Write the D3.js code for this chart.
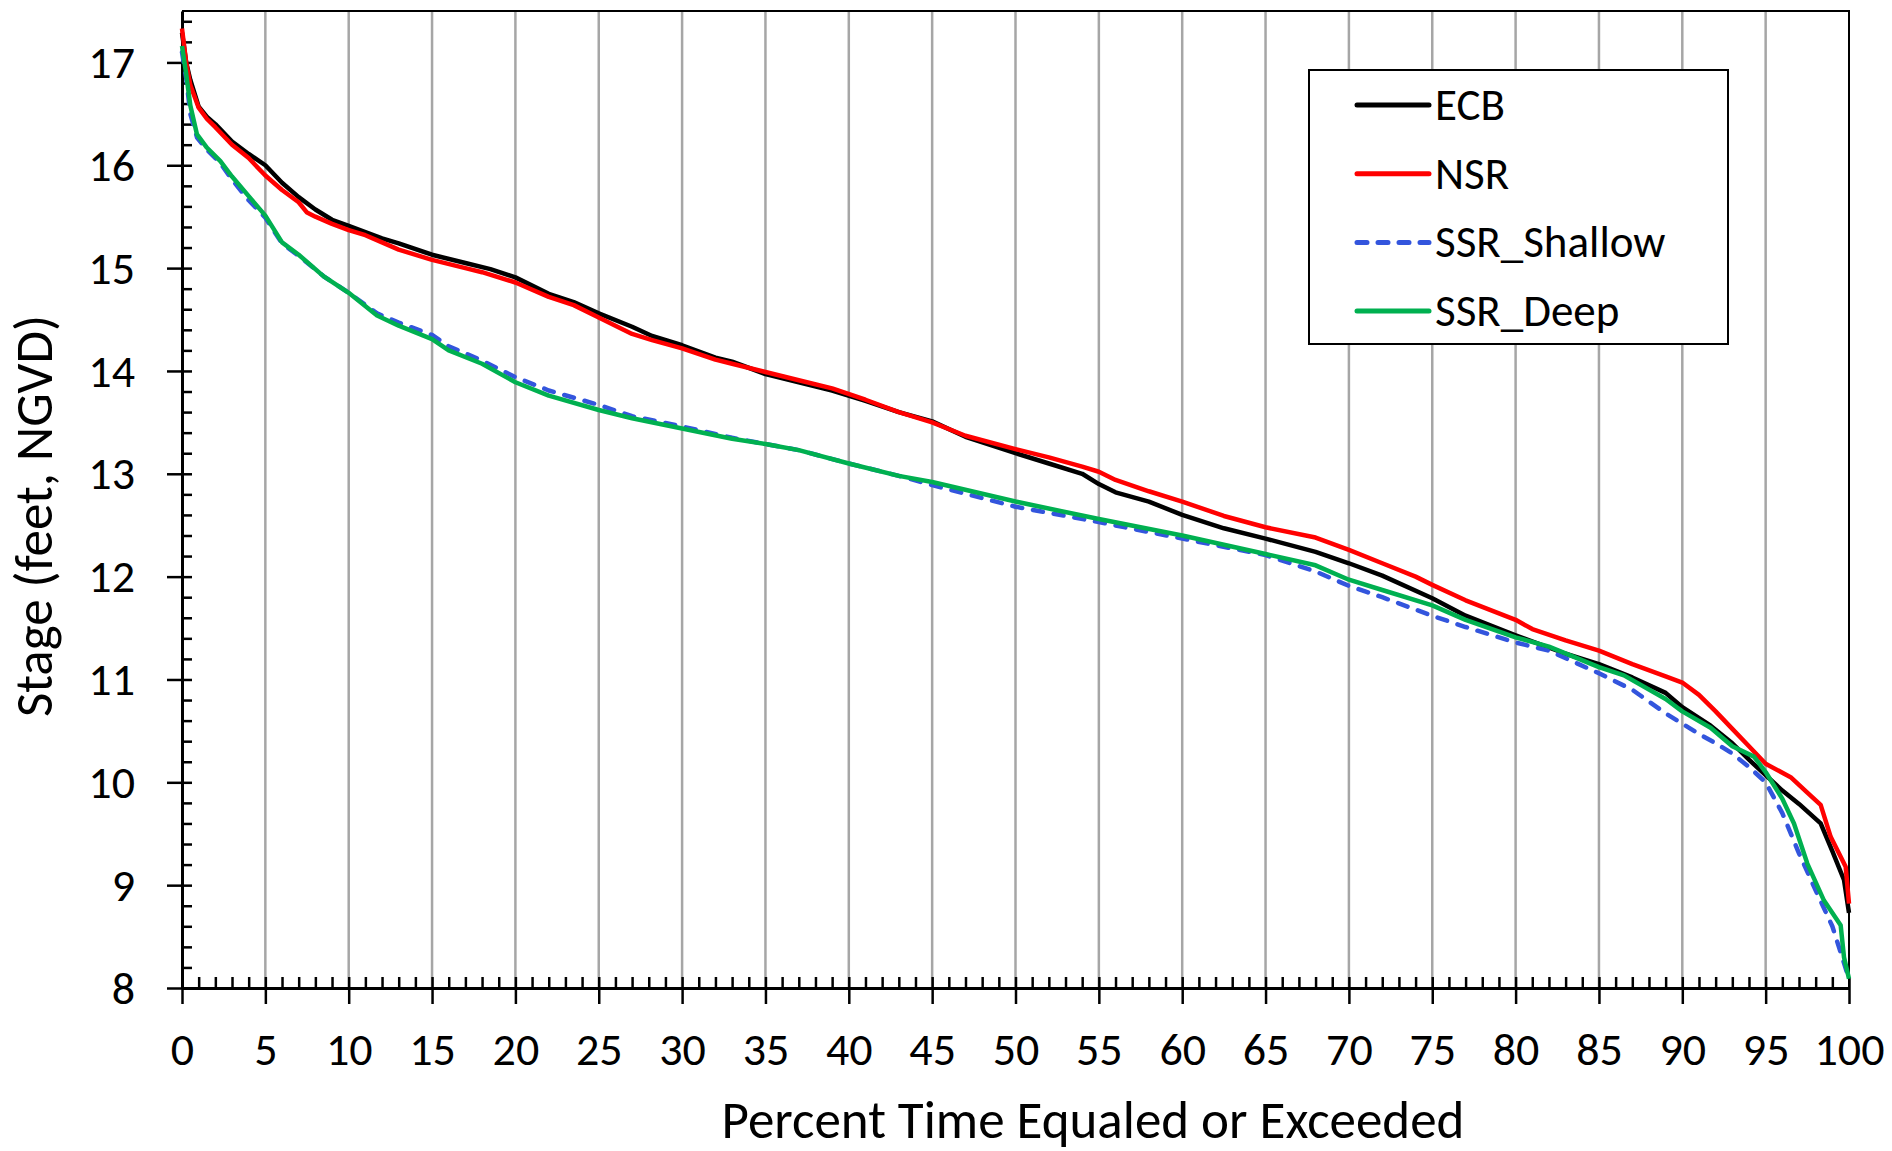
<!DOCTYPE html>
<html>
<head>
<meta charset="utf-8">
<title>Stage duration curves</title>
<script src="https://cdn.jsdelivr.net/npm/d3@7"></script>
<style>
  body { margin: 0; background: #fff; }
  svg { display: block; }
  text { font-family: Carlito, Calibri, Lato, sans-serif; fill: #000; }
</style>
</head>
<body>
<div id="chart"></div>
<script>
// Percent of time equaled or exceeded (x) and stage in feet NGVD (y)
var ecbPct   = [0, 0.25, 0.5, 1, 1.5, 2, 3, 4, 5, 6, 7, 8, 9, 10, 11, 12, 13, 15, 17, 18.5, 20, 22, 23.5, 25, 27, 28.2, 30, 32, 33, 35, 37, 39, 41, 43, 45, 47, 50, 52, 54, 55, 56, 58, 60, 62.5, 65, 68, 70, 72, 75, 77, 80, 83, 85, 87, 89, 90, 91.7, 93, 94, 95, 96, 97, 98.3, 99, 99.7, 100];
var ecbStage = [17.29, 17.0, 16.83, 16.57, 16.47, 16.4, 16.23, 16.11, 16.0, 15.83, 15.69, 15.57, 15.47, 15.41, 15.35, 15.29, 15.24, 15.13, 15.05, 14.99, 14.91, 14.75, 14.67, 14.56, 14.43, 14.34, 14.25, 14.13, 14.09, 13.97, 13.89, 13.81, 13.71, 13.6, 13.51, 13.36, 13.2, 13.1, 13.0, 12.9, 12.82, 12.73, 12.6, 12.47, 12.37, 12.24, 12.13, 12.01, 11.79, 11.62, 11.43, 11.25, 11.15, 11.02, 10.87, 10.73, 10.55, 10.38, 10.22, 10.07, 9.92, 9.79, 9.6, 9.33, 9.05, 8.73];

var nsrPct   = [0, 0.25, 0.5, 1, 1.5, 2, 3, 4, 5, 6, 7, 7.5, 8, 9, 10, 11, 12, 13, 15, 17, 18, 20, 22, 23.5, 25, 27, 28.2, 30, 32, 33, 35, 37, 39, 41, 43, 45, 47, 50, 52, 54, 55, 56, 58, 60, 62.5, 65, 68, 70, 72, 74, 75, 77, 80, 81, 83, 85, 87, 89, 90, 91, 92, 93, 94, 95, 96.5, 97.5, 98.3, 98.9, 99.8, 100];
var nsrStage = [17.33, 17.0, 16.78, 16.56, 16.45, 16.37, 16.2, 16.07, 15.9, 15.76, 15.64, 15.54, 15.5, 15.43, 15.37, 15.32, 15.25, 15.18, 15.08, 15.0, 14.96, 14.86, 14.72, 14.64, 14.52, 14.36, 14.3, 14.22, 14.11, 14.07, 13.99, 13.91, 13.83, 13.72, 13.6, 13.5, 13.37, 13.24, 13.16, 13.07, 13.02, 12.94, 12.83, 12.73, 12.59, 12.48, 12.38, 12.26, 12.13, 12.0, 11.92, 11.77, 11.58, 11.49, 11.38, 11.28, 11.15, 11.03, 10.97, 10.85, 10.69, 10.52, 10.35, 10.18, 10.05, 9.9, 9.78, 9.47, 9.18, 8.82];

var shallowPct   = [0, 0.25, 0.5, 0.9, 1.5, 2.3, 3, 4, 5, 6, 7, 8.5, 10, 11.7, 13, 15, 16, 18, 20, 22, 25, 27, 30, 33, 35, 37, 40, 43, 45, 50, 55, 60, 65, 68, 70, 72, 75, 77, 80, 82, 85, 87, 89, 90, 91, 92, 93, 94, 95, 96, 97, 98, 99, 99.9, 100];
var shallowStage = [17.1, 16.85, 16.5, 16.27, 16.15, 16.02, 15.86, 15.66, 15.49, 15.24, 15.12, 14.92, 14.76, 14.56, 14.47, 14.35, 14.24, 14.1, 13.94, 13.81, 13.67, 13.56, 13.46, 13.35, 13.29, 13.23, 13.1, 12.98, 12.89, 12.68, 12.53, 12.37, 12.21, 12.05, 11.91, 11.8, 11.62, 11.51, 11.36, 11.28, 11.06, 10.9, 10.67, 10.57, 10.47, 10.38, 10.28, 10.15, 10.0, 9.7, 9.31, 8.95, 8.6, 8.14, 8.1];

var deepPct   = [0, 0.25, 0.5, 0.9, 1.5, 2.3, 3, 4, 5, 6, 7, 8.5, 10, 11.7, 13, 15, 16, 18, 20, 22, 25, 27, 30, 33, 35, 37, 40, 43, 45, 50, 55, 60, 65, 68, 70, 72, 75, 77, 80, 82, 85, 86.5, 89, 90, 91.7, 93, 94.3, 95, 96, 96.7, 97.5, 98.5, 99.5, 99.7, 100];
var deepStage = [17.16, 16.89, 16.58, 16.3, 16.17, 16.04, 15.89, 15.7, 15.51, 15.25, 15.13, 14.92, 14.76, 14.54, 14.44, 14.31, 14.2, 14.07, 13.89, 13.76, 13.62, 13.54, 13.44, 13.34, 13.29, 13.23, 13.1, 12.98, 12.92, 12.73, 12.56, 12.4, 12.22, 12.11, 11.97, 11.87, 11.72, 11.58, 11.41, 11.32, 11.12, 11.04, 10.81, 10.69, 10.53, 10.35, 10.25, 10.1, 9.84, 9.6, 9.21, 8.85, 8.61, 8.3, 8.09];

var seriesNames = ["ECB", "NSR", "SSR_Shallow", "SSR_Deep"];
var seriesColors = ["#000000", "#ff0000", "#3355dd", "#00b050"];

// tick labels
var xTicks = d3.range(0, 101, 5);
var yTicks = d3.range(8, 18, 1);

function init() {
  var w = 1892;
  var h = 1151;

  var margin = { top: 11, right: 43, bottom: 163, left: 182 };

  var series = [
    { name: seriesNames[0], pct: ecbPct, stage: ecbStage },
    { name: seriesNames[1], pct: nsrPct, stage: nsrStage },
    { name: seriesNames[2], pct: shallowPct, stage: shallowStage },
    { name: seriesNames[3], pct: deepPct, stage: deepStage }
  ];
  series.forEach(function (s) {
    s.values = s.pct.map(function (p, i) {
      return { pct: p, stage: s.stage[i] };
    });
  });

  //Set up Scales
  var xScale = d3.scaleLinear()
    .domain([0, 100])
    .range([margin.left, w - margin.right]);
  var yScale = d3.scaleLinear()
    .domain([8, 17.5])
    .range([h - margin.bottom, margin.top]);

  var color = d3.scaleOrdinal()
    .domain(seriesNames)
    .range(seriesColors);

  //Create SVG element
  var svg = d3.select("#chart")
    .append("svg")
    .attr("width", w)
    .attr("height", h);

  // vertical grid lines
  svg.append("g")
    .selectAll("line")
    .data(xTicks.filter(function (d) { return d > 0 && d < 100; }))
    .enter()
    .append("line")
    .attr("x1", function (d) { return xScale(d); })
    .attr("x2", function (d) { return xScale(d); })
    .attr("y1", yScale(17.5))
    .attr("y2", yScale(8))
    .attr("stroke", "#a6a6a6")
    .attr("stroke-width", 2.5);

  // plot border (top and right)
  svg.append("path")
    .attr("d", "M" + xScale(0) + "," + yScale(17.5) + "H" + xScale(100) + "V" + yScale(8))
    .attr("fill", "none")
    .attr("stroke", "#000")
    .attr("stroke-width", 2);

  //Minor y ticks pointing inward
  svg.append("g")
    .attr("transform", "translate(" + margin.left + ",0)")
    .call(d3.axisRight(yScale)
      .tickValues(d3.range(0, 48).map(function (i) { return 8 + i * 0.2; }))
      .tickSize(10)
      .tickFormat(""))
    .call(function (g) { g.select(".domain").remove(); })
    .selectAll("line")
    .attr("stroke-width", 2.5);

  //Add y axis
  var yAxis = svg.append("g")
    .attr("transform", "translate(" + margin.left + ",0)")
    .call(d3.axisLeft(yScale)
      .tickValues(yTicks)
      .tickSize(15)
      .tickSizeOuter(0)
      .tickPadding(32));
  yAxis.select(".domain").attr("stroke-width", 3);
  yAxis.selectAll("line").attr("stroke-width", 2.5);
  yAxis.selectAll("text")
    .attr("font-size", 46)
    .attr("font-family", null)
    .attr("dy", "0.33em");

  //Minor x ticks pointing inward
  svg.append("g")
    .attr("transform", "translate(0," + (h - margin.bottom) + ")")
    .call(d3.axisTop(xScale)
      .tickValues(d3.range(0, 101, 1))
      .tickSize(11)
      .tickFormat(""))
    .call(function (g) { g.select(".domain").remove(); })
    .selectAll("line")
    .attr("stroke-width", 2.5);

  //Add x axis
  var xAxis = svg.append("g")
    .attr("transform", "translate(0," + (h - margin.bottom) + ")")
    .call(d3.axisBottom(xScale)
      .tickValues(xTicks)
      .tickSize(16)
      .tickSizeOuter(0)
      .tickPadding(28));
  xAxis.select(".domain").attr("stroke-width", 3);
  xAxis.selectAll("line").attr("stroke-width", 2.5);
  xAxis.selectAll("text")
    .attr("font-size", 46)
    .attr("font-family", null);

  // axis titles
  svg.append("text")
    .attr("x", 1093)
    .attr("y", 1138)
    .attr("text-anchor", "middle")
    .attr("font-size", 53)
    .text("Percent Time Equaled or Exceeded");

  svg.append("text")
    .attr("transform", "translate(52," + 516 + ") rotate(-90)")
    .attr("text-anchor", "middle")
    .attr("font-size", 53)
    .text("Stage (feet, NGVD)");

  //Set up line
  var line = d3.line()
    .x(function (d) { return xScale(d.pct); })
    .y(function (d) { return yScale(d.stage); });

  svg.append("g")
    .selectAll("path")
    .data(series)
    .enter()
    .append("path")
    .attr("d", function (d) { return line(d.values); })
    .attr("fill", "none")
    .attr("stroke", function (d) { return color(d.name); })
    .attr("stroke-width", 4.5)
    .attr("stroke-linejoin", "round")
    .attr("stroke-dasharray", function (d) {
      return d.name === "SSR_Shallow" ? "10,11" : null;
    })
    .attr("stroke-linecap", function (d) {
      return d.name === "SSR_Shallow" ? "round" : "butt";
    });

  // Legend
  var legend = svg.append("g")
    .attr("transform", "translate(1309,70)");

  legend.append("rect")
    .attr("width", 419)
    .attr("height", 274)
    .attr("fill", "#fff")
    .attr("stroke", "#000")
    .attr("stroke-width", 2);

  var items = legend.selectAll(".legend-item")
    .data(seriesNames)
    .enter()
    .append("g")
    .attr("class", "legend-item")
    .attr("transform", function (d, i) {
      return "translate(0," + (35 + i * 68.7) + ")";
    });

  items.append("line")
    .attr("x1", 48)
    .attr("x2", 120)
    .attr("stroke", function (d) { return color(d); })
    .attr("stroke-width", 5)
    .attr("stroke-linecap", "round")
    .attr("stroke-dasharray", function (d) {
      return d === "SSR_Shallow" ? "10,11" : null;
    });

  items.append("text")
    .attr("x", 126)
    .attr("dy", "0.33em")
    .attr("font-size", 45)
    .text(function (d) { return d; });
}

window.onload = function () {
  init();
}
</script>
</body>
</html>
